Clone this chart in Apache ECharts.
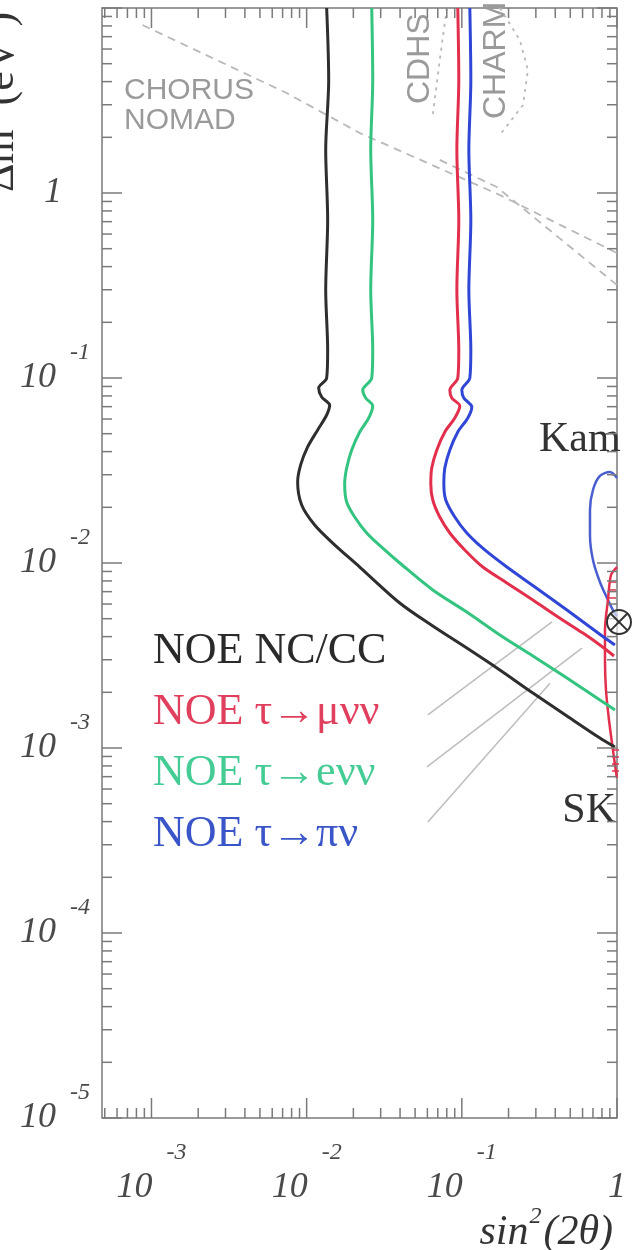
<!DOCTYPE html>
<html><head><meta charset="utf-8">
<script src="https://cdn.jsdelivr.net/npm/echarts@6/dist/echarts.min.js"></script>
<style>html,body{margin:0;padding:0;background:#fff}#c{width:637px;height:1250px}</style>
</head><body><div id="c"></div><script>
// ---- axis ranges & ticks ----
const X_MIN = 4.8e-4, X_MAX = 1, Y_MIN = 1e-5, Y_MAX = 10;
const xMajorTicks = [1e-3, 1e-2, 1e-1, 1];
const yMajorTicks = [1e-5, 1e-4, 1e-3, 1e-2, 1e-1, 1, 10];
const minorFactors = [2, 3, 4, 5, 6, 7, 8, 9];

// ---- curves: [sin^2(2θ), Δm^2 (eV^2)] ----
const noeNCCC = [[0.01346,10],[0.01387,4.08],[0.01327,1.708],[0.01366,0.7145],[0.01327,0.299],[0.01366,0.1417],[0.01346,0.1],
  [0.01195,0.0883],[0.0125,0.0789],[0.01407,0.0714],[0.01346,0.0631],[0.01178,0.0524],[0.01015,0.0424],[0.00915,0.0339],
  [0.00875,0.0274],[0.00929,0.02058],[0.01127,0.01604],[0.01472,0.01282],[0.02198,0.00951],[0.0398,0.00608],[0.065,0.004565],
  [0.1077,0.00347],[0.1758,0.002641],[0.2871,0.001982],[0.4757,0.00149],[0.7762,0.001133],[0.97,0.001012]];
const noeTauMu = [[0.0942,10],[0.0956,4.08],[0.0929,1.708],[0.0956,0.7145],[0.0929,0.299],[0.0956,0.1417],[0.0942,0.1],
  [0.0837,0.0861],[0.0862,0.078],[0.0971,0.0706],[0.0901,0.0608],[0.0777,0.0511],[0.069,0.0408],[0.064,0.0326],
  [0.0631,0.02673],[0.065,0.0219],[0.0721,0.01772],[0.0837,0.01453],[0.1045,0.01176],[0.1366,0.00951],[0.1951,0.0078],
  [0.2871,0.00631],[0.4164,0.00511],[0.6035,0.00418],[0.7762,0.003603],[0.9563,0.003144]];
const noeTauE = [[0.02627,10],[0.02666,4.08],[0.02588,1.708],[0.02666,0.7145],[0.02588,0.299],[0.02666,0.1417],[0.02627,0.1],
  [0.02298,0.0861],[0.02402,0.078],[0.02666,0.0706],[0.02512,0.0608],[0.02198,0.0511],[0.01951,0.0408],[0.01811,0.0326],
  [0.01758,0.02673],[0.01811,0.02136],[0.0204,0.01772],[0.02438,0.01453],[0.03185,0.01176],[0.0398,0.01],[0.065,0.00715],
  [0.1077,0.00543],[0.1758,0.00408],[0.2871,0.00314],[0.4757,0.002388],[0.7762,0.001817],[0.97,0.001605]];
const noeTauPi = [[0.1126,10],[0.1143,4.08],[0.111,1.708],[0.1143,0.7145],[0.111,0.299],[0.1143,0.1417],[0.1126,0.1],
  [0.1,0.0861],[0.103,0.078],[0.116,0.0697],[0.1093,0.0608],[0.0942,0.0511],[0.0837,0.0408],[0.0777,0.0326],
  [0.0766,0.02673],[0.0788,0.0219],[0.0901,0.01772],[0.1077,0.01453],[0.1407,0.01176],[0.1951,0.00951],[0.2958,0.00742],
  [0.4757,0.00557],[0.6697,0.00451],[0.8366,0.00393],[0.97,0.003603]];
const kamContour = [[1.0,0.02881],[0.901,0.03104],[0.776,0.02954],[0.70,0.02481],[0.6697,0.01934],[0.6697,0.01417],
  [0.70,0.01038],[0.776,0.00789],[0.8746,0.00631],[0.9563,0.00543],[1.0,0.00517]];
const skContour = [[1.0,0.00951],[0.915,0.00861],[0.8746,0.00631],[0.8366,0.00434],[0.8366,0.00299],[0.8492,0.002058],
  [0.888,0.001417],[0.942,0.000975],[0.985,0.000742],[1.0,0.000689]];
const skHatch = [[0.888,0.00789],[0.888,0.00715],[0.888,0.00647],[0.928,0.000975],[0.928,0.000894],[0.928,0.000819],[0.928,0.000751]];
const bestFit = [[1.03,0.0048]];
const chorusA = [[8.75e-4,8.09],[7.43e-3,3.47],[0.02198,2.11],[0.1758,0.975],[1.0,0.474]];
const chorusB = [[0.0721,1.51],[0.168,1.077],[1.0,0.318]];
const cdhsLine = [[0.08,10],[0.0721,5.24],[0.065,2.64]];
const charmLine = [[0.1758,10],[0.2366,6.71],[0.2667,4.62],[0.2478,2.99],[0.1758,2.06]];
const pointerLines = [
  [[0.0604,1.51e-3],[0.381,4.8e-3]],
  [[0.0596,7.9e-4],[0.594,3.47e-3]],
  [[0.0604,3.98e-4],[0.37,2.24e-3]]
];
const seriesNames = ['NOE NC/CC', 'NOE τ→μνν', 'NOE τ→eνν', 'NOE τ→πν'];
const lineColors = ['#2e2e2e', '#e2304c', '#33c47f', '#3046d6'];
const textColors = ['#2a2a2a', '#e0405e', '#45cc95', '#3a55c8'];

const SERIF = 'Liberation Serif, Times New Roman, serif';
const SANS = 'Liberation Sans, Arial, sans-serif';
const LABEL = '#4a4a4a';
const AXIS = '#7a7a7a';

function logTicks(min, max) {
  const out = [];
  for (let e = Math.floor(Math.log10(min)); e <= Math.ceil(Math.log10(max)); e++) {
    const base = Math.pow(10, e);
    if (base >= min * 0.999 && base <= max * 1.001) out.push([base, 1]);
    minorFactors.forEach(k => { const v = k * base; if (v >= min * 0.999 && v <= max * 1.001) out.push([v, 0]); });
  }
  return out;
}
const xTicks = logTicks(X_MIN, X_MAX);
const yTicks = logTicks(Y_MIN, Y_MAX);
const tickStyle = { stroke: AXIS, lineWidth: 1.5 };

const chart = echarts.init(document.getElementById('c'), null, { renderer: 'canvas' });

const series = [];
[noeNCCC, noeTauMu, noeTauE, noeTauPi].forEach((d, i) => {
  series.push({ type: 'line', name: seriesNames[i], data: d, showSymbol: false, symbol: 'none', smooth: 0.3,
    lineStyle: { color: lineColors[i], width: 3 }, itemStyle: { color: lineColors[i] }, z: 4, silent: true });
});
series.push({ type: 'line', name: 'Kam', data: kamContour, symbol: 'none', smooth: 0.3, clip: false,
  lineStyle: { color: '#4a5ed0', width: 2.5 }, z: 3, silent: true });
series.push({ type: 'line', name: 'SK', data: skContour, symbol: 'none', smooth: 0.3, clip: false,
  lineStyle: { color: '#e2304c', width: 2.5 }, z: 3, silent: true });
[[chorusA, [8, 6]], [chorusB, [8, 6]], [cdhsLine, [3, 5]], [charmLine, [3, 5]]].forEach(([d, dash]) => {
  series.push({ type: 'line', data: d, symbol: 'none', clip: true,
    lineStyle: { color: '#b8b8b8', width: 1.8, type: dash }, z: 2, silent: true });
});
pointerLines.forEach(d => {
  series.push({ type: 'line', data: d, symbol: 'none', lineStyle: { color: '#bdbdbd', width: 1.5 }, z: 2, silent: true });
});
series.push({ type: 'custom', data: skHatch, silent: true, z: 3, clip: false,
  renderItem(p, api) { const c = api.coord([api.value(0), api.value(1)]);
    return { type: 'line', shape: { x1: c[0], y1: c[1], x2: c[0] + 7, y2: c[1] }, style: { stroke: '#e2304c', lineWidth: 1.5 } }; } });
series.push({ type: 'custom', data: bestFit, silent: true, z: 6, clip: false,
  renderItem(p, api) { const c = api.coord([api.value(0), api.value(1)]); const r = 12, d = r * 0.72;
    return { type: 'group', children: [
      { type: 'circle', shape: { cx: c[0], cy: c[1], r }, style: { fill: 'rgba(255,255,255,0.6)', stroke: '#333', lineWidth: 2 } },
      { type: 'line', shape: { x1: c[0] - d, y1: c[1] - d, x2: c[0] + d, y2: c[1] + d }, style: { stroke: '#333', lineWidth: 2 } },
      { type: 'line', shape: { x1: c[0] - d, y1: c[1] + d, x2: c[0] + d, y2: c[1] - d }, style: { stroke: '#333', lineWidth: 2 } }
    ] }; } });
series.push({ type: 'custom', data: xTicks.map(t => [t[0], Y_MIN, t[1]]), silent: true, z: 5,
  renderItem(p, api) { const v = api.value(0), L = api.value(2) ? 20 : 10;
    const b = api.coord([v, Y_MIN]), t = api.coord([v, Y_MAX]);
    return { type: 'group', children: [
      { type: 'line', shape: { x1: b[0], y1: b[1], x2: b[0], y2: b[1] - L }, style: tickStyle },
      { type: 'line', shape: { x1: t[0], y1: t[1], x2: t[0], y2: t[1] + L }, style: tickStyle } ] }; } });
series.push({ type: 'custom', data: yTicks.map(t => [X_MIN, t[0], t[1]]), silent: true, z: 5,
  renderItem(p, api) { const v = api.value(1), L = api.value(2) ? 20 : 10;
    const l = api.coord([X_MIN, v]), r = api.coord([X_MAX, v]);
    return { type: 'group', children: [
      { type: 'line', shape: { x1: l[0], y1: l[1], x2: l[0] + L, y2: l[1] }, style: tickStyle },
      { type: 'line', shape: { x1: r[0], y1: r[1], x2: r[0] - L, y2: r[1] }, style: tickStyle } ] }; } });

function lab(fs, lh, extra) { return Object.assign({ fontFamily: SERIF, fontStyle: 'italic', fontSize: fs, lineHeight: lh, color: LABEL }, extra || {}); }
const expFormatter = v => { const e = Math.round(Math.log10(v)); return e === 0 ? '{one|1}' : '{b|10}{s|' + e + '}'; };

const option = {
  animation: false,
  backgroundColor: '#fff',
  grid: { left: 102, right: 20, top: 8, bottom: 132, show: true, borderColor: AXIS, borderWidth: 1.5, backgroundColor: 'transparent' },
  legend: {
    orient: 'vertical', left: 143, top: 624, itemWidth: 0, itemHeight: 0, itemGap: 17, icon: 'none', selectedMode: false,
    textStyle: { fontFamily: SERIF, fontSize: 44 },
    data: seriesNames.map((n, i) => ({ name: n, textStyle: { color: textColors[i] } }))
  },
  xAxis: {
    type: 'log', min: X_MIN, max: X_MAX, logBase: 10,
    axisLine: { show: false }, axisTick: { show: false }, splitLine: { show: false },
    axisLabel: {
      margin: 23, showMinLabel: false, formatter: expFormatter,
      rich: {
        b: lab(36, 94),
        s: lab(24, 24, { verticalAlign: 'top', padding: [0, 0, 0, 14] }),
        one: lab(36, 94)
      }
    }
  },
  yAxis: {
    type: 'log', min: Y_MIN, max: Y_MAX, logBase: 10,
    axisLine: { show: false }, axisTick: { show: false }, splitLine: { show: false },
    axisLabel: {
      margin: 12, showMaxLabel: false, formatter: expFormatter,
      rich: {
        b: lab(36, 74),
        s: lab(24, 24, { verticalAlign: 'top', padding: [0, 0, 0, 14] }),
        one: lab(36, 36, { padding: [0, 28, 0, 0] })
      }
    }
  },
  graphic: [
    { type: 'text', x: 23, y: 192, rotation: Math.PI / 2, silent: true,
      style: { text: '{a|Δm}{s|2}{a| (eV}{s|2}{a|)}', align: 'left', verticalAlign: 'bottom', textAlign: 'left', textVerticalAlign: 'bottom',
        rich: { a: { fontFamily: SERIF, fontSize: 44, lineHeight: 44, fill: '#333', color: '#333' },
                s: { fontFamily: SERIF, fontSize: 26, lineHeight: 26, verticalAlign: 'top', fill: '#333', color: '#333' } } } },
    { type: 'text', x: 124, y: 76, silent: true,
      style: { text: 'CHORUS\nNOMAD', font: '30px ' + SANS, fill: '#9a9a9a', lineHeight: 30, align: 'left', verticalAlign: 'top', textAlign: 'left', textVerticalAlign: 'top' } },
    { type: 'text', x: 436, y: 104, rotation: Math.PI / 2, silent: true,
      style: { text: 'CDHS', font: '32px ' + SANS, fill: '#9a9a9a', align: 'left', verticalAlign: 'bottom', textAlign: 'left', textVerticalAlign: 'bottom' } },
    { type: 'text', x: 512, y: 119, rotation: Math.PI / 2, silent: true,
      style: { text: 'CHARM', font: '32px ' + SANS, fill: '#9a9a9a', align: 'left', verticalAlign: 'bottom', textAlign: 'left', textVerticalAlign: 'bottom' } },
    { type: 'text', x: 539, y: 461, silent: true,
      style: { text: 'Kam', font: '42px ' + SERIF, fill: '#333', align: 'left', verticalAlign: 'bottom', textAlign: 'left', textVerticalAlign: 'bottom' } },
    { type: 'text', x: 616, y: 832, silent: true,
      style: { text: 'SK', font: '42px ' + SERIF, fill: '#333', align: 'right', verticalAlign: 'bottom', textAlign: 'right', textVerticalAlign: 'bottom' } },
    { type: 'text', x: 613, y: 1261, silent: true,
      style: { text: '{a|sin}{s|2}{a|(2θ)}', align: 'right', verticalAlign: 'bottom', textAlign: 'right', textVerticalAlign: 'bottom',
        rich: { a: { fontFamily: SERIF, fontStyle: 'italic', fontSize: 42, lineHeight: 56, fill: '#333', color: '#333' },
                s: { fontFamily: SERIF, fontStyle: 'italic', fontSize: 24, lineHeight: 24, verticalAlign: 'top', padding: [0, 2, 0, 1], fill: '#333', color: '#333' } } } }
  ],
  series
};
chart.setOption(option);
</script></body></html>
